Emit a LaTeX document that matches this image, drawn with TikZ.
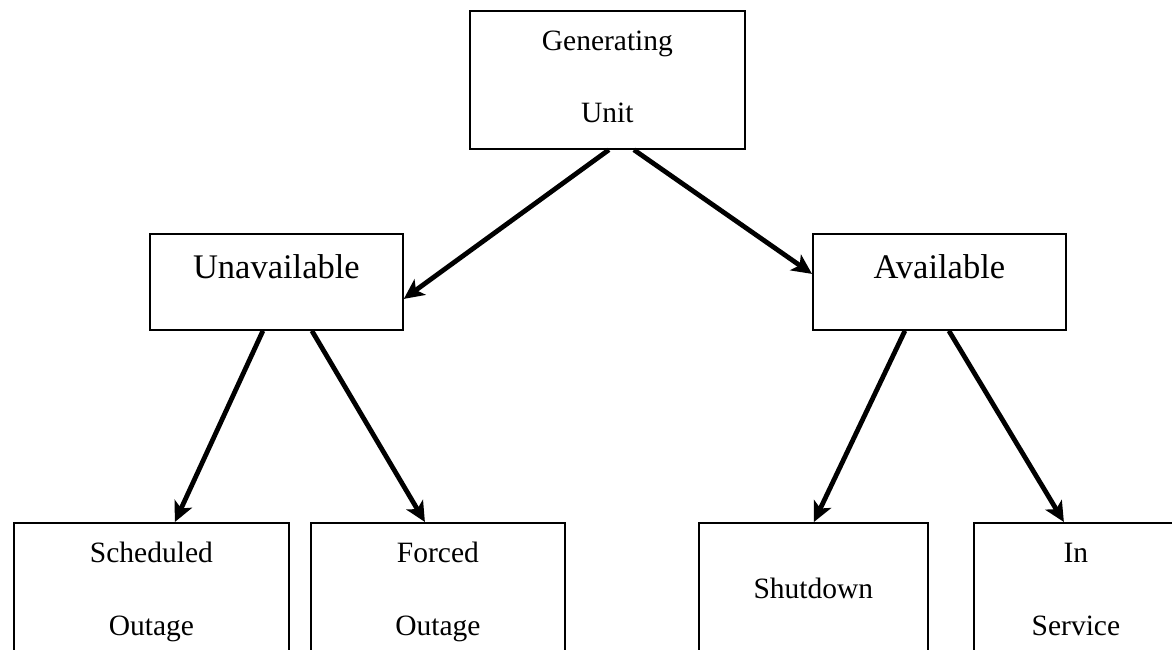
\documentclass[tikz,border=0pt]{standalone}
\usepackage{fontspec}
\setmainfont{Liberation Serif}
\usetikzlibrary{arrows.meta,calc}
\begin{document}
\begin{tikzpicture}[x=1pt,y=-1pt,
  box/.style={draw, line width=1.8pt, inner sep=0pt, anchor=north west},
  small/.style={inner sep=0pt, anchor=base, font=\fontsize{29.5}{35}\selectfont},
  big/.style={inner sep=0pt, anchor=base, font=\fontsize{34.5}{40}\selectfont},
  conn/.style={line width=4.8pt, -{Stealth[length=20pt,width=19pt,inset=5pt]}}]
\useasboundingbox (0,0) rectangle (1172,649);
\clip (0,0) rectangle (1172,649);
\fill[white] (0,0) rectangle (1172,649);

% boxes
\node[box, minimum width=275pt, minimum height=138pt] (gen)    at (469,10)  {};
\node[box, minimum width=253pt, minimum height=96pt]  (unav)   at (149,233) {};
\node[box, minimum width=253pt, minimum height=96pt]  (avail)  at (812,233) {};
\node[box, minimum width=275pt, minimum height=150pt] (sched)  at (13,522)  {};
\node[box, minimum width=254pt, minimum height=150pt] (forced) at (310,522) {};
\node[box, minimum width=229pt, minimum height=150pt] (shut)   at (698,522) {};
\node[box, minimum width=204pt, minimum height=150pt] (inserv) at (973,522) {};

% labels
\node[small] (genA)    at ($(gen.north)+(0,40)$)     {Generating};
\node[small] (genB)    at ($(gen.north)+(0,112)$)    {Unit};
\node[big]   (unavT)   at ($(unav.north)+(0,45)$)    {Unavailable};
\node[big]   (availT)  at ($(avail.north)+(0,45)$)   {Available};
\node[small] (schedA)  at ($(sched.north)+(0,40)$)   {Scheduled};
\node[small] (schedB)  at ($(sched.north)+(0,113)$)  {Outage};
\node[small] (forcedA) at ($(forced.north)+(0,40)$)  {Forced};
\node[small] (forcedB) at ($(forced.north)+(0,113)$) {Outage};
\node[small] (shutT)   at ($(shut.north)+(0,76)$)    {Shutdown};
\node[small] (inservA) at ($(inserv.north)+(0,40)$)  {In};
\node[small] (inservB) at ($(inserv.north)+(0,113)$) {Service};

% connectors
\draw[conn] ($(gen.south)+(1.5,0)$)   -- ($(unav.east)+(0,17)$);
\draw[conn] ($(gen.south)+(26.5,0)$)  -- ($(avail.west)+(0,-8)$);
\draw[conn] ($(unav.south)+(-13.5,0)$) -- ($(sched.north)+(23.5,0)$);
\draw[conn] ($(unav.south)+(35.5,0)$)  -- ($(forced.north)+(-13,0)$);
\draw[conn] ($(avail.south)+(-34.5,0)$) -- ($(shut.north)+(0.5,0)$);
\draw[conn] ($(avail.south)+(9.5,0)$)   -- ($(inserv.north)+(-12,0)$);
\end{tikzpicture}
\end{document}
